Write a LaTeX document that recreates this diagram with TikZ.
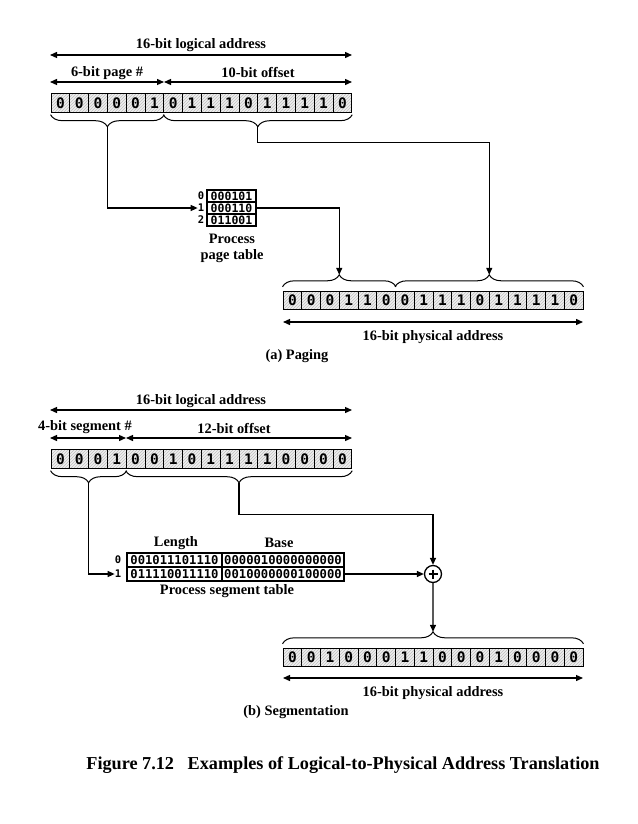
\documentclass[tikz,border=0pt]{standalone}
\usepackage{fontspec}
\setmainfont{Liberation Serif}
\newfontfamily\monofont{DejaVu Sans Mono}
\usetikzlibrary{arrows.meta,decorations.pathreplacing,patterns,calc}
\tikzset{
  bitcell/.style={draw, line width=0.9pt, minimum width=18.8pt, minimum height=18.5pt, inner sep=0pt,
    preaction={fill=gray!12}, pattern=north east lines, pattern color=gray!50,
    font=\monofont\bfseries\fontsize{14.5}{14.5}\selectfont},
  tabcell/.style={draw, line width=1.1pt, inner sep=0pt, font=\monofont\bfseries\fontsize{11.5}{11.5}\selectfont},
  idx/.style={inner sep=0pt, font=\monofont\bfseries\fontsize{10.5}{10.5}\selectfont},
  lbl/.style={inner sep=0pt, font=\bfseries\fontsize{14.4}{16}\selectfont},
  conn/.style={line width=1.3pt},
  arr/.style={conn, -{Triangle[length=7pt,width=6pt]}},
  dbl/.style={conn, {Triangle[length=7pt,width=6pt]}-{Triangle[length=7pt,width=6pt]}},
  brcdown/.style={line width=1pt, decorate, decoration={brace, mirror, amplitude=12pt}},
  brcup/.style={line width=1pt, decorate, decoration={brace, amplitude=12pt}},
}
\begin{document}
\begin{tikzpicture}[x=1pt,y=-1pt]
\useasboundingbox (0,0) rectangle (637,824);

% ================= (a) Paging =================
\node[lbl] (la) at (201,45) {16-bit logical address};
\coordinate (la1) at (50,55); \coordinate (la2) at (352,55);
\draw[dbl] (la1) -- (la2);
\node[lbl] (pg) at (107,73) {6-bit page \#};
\node[lbl] (of) at (258,73) {10-bit offset};
\coordinate (pa1) at (50,82); \coordinate (pa2) at (164,82); \coordinate (pa3) at (352,82);
\draw[dbl] (pa1) -- (pa2);
\draw[dbl] (pa2) -- (pa3);

\foreach \b [count=\i from 0] in {0,0,0,0,0,1,0,1,1,1,0,1,1,1,1,0}
  \node[bitcell] (A\i) at ({51+9.4+18.8*\i},103) {\b};

\draw[brcdown] ([yshift=-2pt]A0.south west) -- ([yshift=-2pt]A5.south east);
\draw[brcdown] ([yshift=-2pt]A6.south west) -- ([yshift=-2pt]A15.south east);
\coordinate (bt1) at ($(A0.south west)!0.5!(A5.south east)+(0,14)$);
\coordinate (bt2) at ($(A6.south west)!0.5!(A15.south east)+(0,14)$);

% page table
\node[tabcell, minimum width=49pt, minimum height=12pt] (pt0) at (231.5,196) {000101};
\node[tabcell, minimum width=49pt, minimum height=12pt] (pt1) at (231.5,208) {000110};
\node[tabcell, minimum width=49pt, minimum height=12pt] (pt2) at (231.5,220) {011001};
\node[idx] (pi0) at (201,196) {0};
\node[idx] (pi1) at (201,208) {1};
\node[idx] (pi2) at (201,220) {2};
\node[lbl, align=center] (ptl) at (232,248) {Process\\page table};

% physical address (a)
\foreach \b [count=\i from 0] in {0,0,0,1,1,0,0,1,1,1,0,1,1,1,1,0}
  \node[bitcell] (P\i) at ({283+9.375+18.75*\i},300.5) {\b};
\draw[brcup] ([yshift=4pt]P0.north west) -- ([yshift=4pt]P5.north east);
\draw[brcup] ([yshift=4pt]P6.north west) -- ([yshift=4pt]P15.north east);
\coordinate (pbt1) at ($(P0.north west)!0.5!(P5.north east)+(0,-16)$);
\coordinate (pbt2) at ($(P6.north west)!0.5!(P15.north east)+(0,-16)$);

\draw[arr] (bt1) |- (pi1.west);
\draw[arr] (bt2) -- ($(bt2)+(0,16)$) -| (pbt2);
\draw[arr] (pt1.east) -| (pbt1);

\coordinate (ph1) at (283,322); \coordinate (ph2) at (583,322);
\draw[dbl] (ph1) -- (ph2);
\node[lbl] (phl) at (433,337) {16-bit physical address};
\node[lbl] (capa) at (297,356) {(a) Paging};

% ================= (b) Segmentation =================
\node[lbl] (lb) at (201,401) {16-bit logical address};
\coordinate (lb1) at (50,410); \coordinate (lb2) at (352,410);
\draw[dbl] (lb1) -- (lb2);
\node[lbl] (sg) at (85,427) {4-bit segment \#};
\node[lbl] (of2) at (234,428) {12-bit offset};
\coordinate (sa1) at (50,438); \coordinate (sa2) at (126,438); \coordinate (sa3) at (352,438);
\draw[dbl] (sa1) -- (sa2);
\draw[dbl] (sa2) -- (sa3);

\foreach \b [count=\i from 0] in {0,0,0,1,0,0,1,0,1,1,1,1,0,0,0,0}
  \node[bitcell] (S\i) at ({51+9.4+18.8*\i},459) {\b};
\draw[brcdown] ([yshift=-2pt]S0.south west) -- ([yshift=-2pt]S3.south east);
\draw[brcdown] ([yshift=-2pt]S4.south west) -- ([yshift=-2pt]S15.south east);
\coordinate (sbt1) at ($(S0.south west)!0.5!(S3.south east)+(0,14)$);
\coordinate (sbt2) at ($(S4.south west)!0.5!(S15.south east)+(0,14)$);

% segment table
\node[lbl] (lenh) at (176,543) {Length};
\node[lbl] (baseh) at (279,543) {Base};
\node[tabcell, minimum width=95pt, minimum height=14pt, font=\monofont\bfseries\fontsize{12.2}{12.2}\selectfont] (l0) at (174.5,560) {001011101110};
\node[tabcell, minimum width=122pt, minimum height=14pt, font=\monofont\bfseries\fontsize{12.2}{12.2}\selectfont] (b0) at (283,560) {0000010000000000};
\node[tabcell, minimum width=95pt, minimum height=14pt, font=\monofont\bfseries\fontsize{12.2}{12.2}\selectfont] (l1) at (174.5,574) {011110011110};
\node[tabcell, minimum width=122pt, minimum height=14pt, font=\monofont\bfseries\fontsize{12.2}{12.2}\selectfont] (b1) at (283,574) {0010000000100000};
\node[idx] (si0) at (118,560) {0};
\node[idx] (si1) at (118,574) {1};
\node[lbl] (stl) at (227,591) {Process segment table};

\node[draw, circle, line width=1.3pt, minimum size=17pt, inner sep=0pt] (plus) at (433,574) {};
\draw[line width=1.6pt] ($(plus.center)+(-4.5,0)$) -- ($(plus.center)+(4.5,0)$);
\draw[line width=1.6pt] ($(plus.center)+(0,-4.5)$) -- ($(plus.center)+(0,4.5)$);

% physical address (b)
\foreach \b [count=\i from 0] in {0,0,1,0,0,0,1,1,0,0,0,1,0,0,0,0}
  \node[bitcell] (Q\i) at ({283+9.375+18.75*\i},657.5) {\b};
\draw[brcup] ([yshift=4pt]Q0.north west) -- ([yshift=4pt]Q15.north east);
\coordinate (qbt) at ($(Q0.north west)!0.5!(Q15.north east)+(0,-16)$);

\draw[arr] (sbt1) |- (si1.west);
\draw[arr] (sbt2) -- ($(sbt2)+(0,32)$) -| (plus.north);
\draw[arr] (b1.east) -- (plus.west);
\draw[arr] (plus.south) -- (qbt);

\coordinate (qh1) at (283,678); \coordinate (qh2) at (583,678);
\draw[dbl] (qh1) -- (qh2);
\node[lbl] (qhl) at (433,693) {16-bit physical address};
\node[lbl] (capb) at (296,712) {(b) Segmentation};

% caption
\node[inner sep=0pt, font=\bfseries\fontsize{18.2}{20}\selectfont] (cap) at (343,765) {Figure 7.12\hspace{0.5em} Examples of Logical-to-Physical Address Translation};
\end{tikzpicture}
\end{document}
